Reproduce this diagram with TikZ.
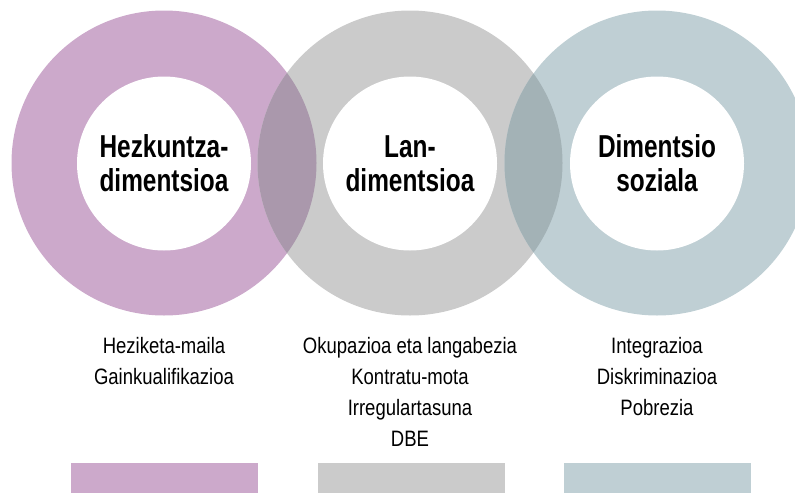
\documentclass[tikz,border=0pt]{standalone}
\usepackage{fontspec}
\newfontfamily\headfont{Liberation Sans}[FakeStretch=0.77]
\newfontfamily\bodyfont{Liberation Sans}[FakeStretch=0.83]
\definecolor{purp}{HTML}{CCA9CB}
\definecolor{gry}{HTML}{CBCBCB}
\definecolor{blu}{HTML}{BFCFD4}
\definecolor{ovpg}{HTML}{AA98AC}
\definecolor{ovgb}{HTML}{A3B2B6}
\tikzset{
  outer/.style={circle, minimum size=305pt, inner sep=0pt, draw=none},
  inner/.style={circle, minimum size=174pt, inner sep=0pt, draw=none, fill=white},
  head/.style={font=\headfont\bfseries\fontsize{31.7}{34}\selectfont, align=center, inner sep=0pt},
  body/.style={font=\bodyfont\fontsize{22.3}{31.2}\selectfont, align=center, inner sep=0pt, anchor=north},
  legend/.style={minimum width=187pt, minimum height=30pt, inner sep=0pt, anchor=north, draw=none}
}
\begin{document}
\begin{tikzpicture}[x=1pt,y=-1pt]
\useasboundingbox (0,0) rectangle (795,493);
\begin{scope}
\clip (0,0) rectangle (795,493);
\node[outer, fill=purp] (o1) at (164,163) {};
\node[outer, fill=gry] (o2) at (410,163) {};
\node[outer, fill=blu] (o3) at (657,163) {};
\begin{scope}
\clip (o1.center) circle [radius=152.5pt];
\fill[ovpg] (o2.center) circle [radius=152.5pt];
\end{scope}
\begin{scope}
\clip (o2.center) circle [radius=152.5pt];
\fill[ovgb] (o3.center) circle [radius=152.5pt];
\end{scope}
\end{scope}
\node[inner] (i1) at (164,163.5) {};
\node[inner] (i2) at (410,163.5) {};
\node[inner] (i3) at (657,163.5) {};
\node[head] (h1) at (164,163.5) {Hezkuntza-\\dimentsioa};
\node[head] (h2) at (410,163.5) {Lan-\\dimentsioa};
\node[head] (h3) at (657,163.5) {Dimentsio\\soziala};
\node[body] (b1) at (164,336.7) {Heziketa-maila\\Gainkualifikazioa};
\node[body] (b2) at (410,336.7) {Okupazioa eta langabezia\\Kontratu-mota\\Irregulartasuna\\DBE};
\node[body] (b3) at (657,336.7) {Integrazioa\\Diskriminazioa\\Pobrezia};
\node[legend, fill=purp] (l1) at (164.5,463) {};
\node[legend, fill=gry] (l2) at (411,463) {};
\node[legend, fill=blu] (l3) at (657.5,463) {};
\end{tikzpicture}
\end{document}
